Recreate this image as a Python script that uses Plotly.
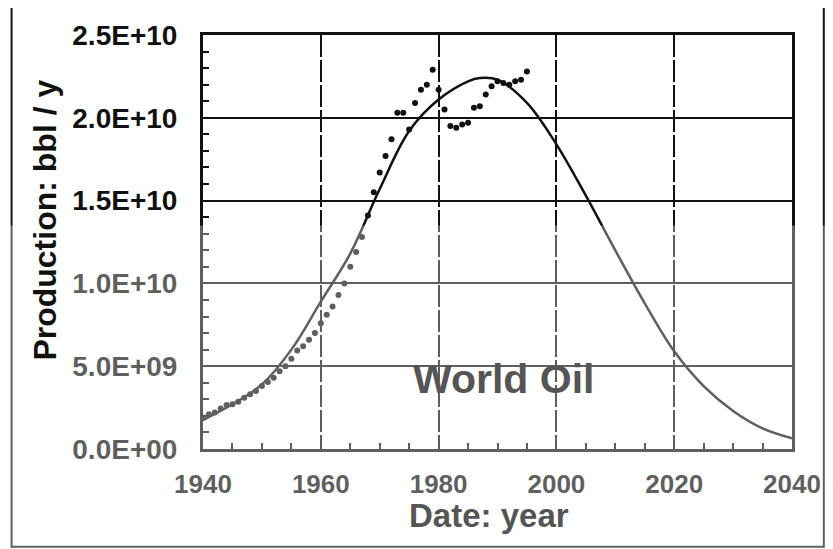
import plotly.graph_objects as go

# Hubbert-type model curve
curve_years = [1940, 1945, 1950, 1955, 1960, 1965, 1970, 1975, 1980, 1985, 1987,
               1990, 1995, 2000, 2005, 2010, 2015, 2020, 2025, 2030, 2035, 2040]
curve_values = [1.75e9, 2.7e9, 3.9e9, 6.0e9, 8.9e9, 1.18e10, 1.57e10, 1.92e10, 2.11e10,
                2.22e10, 2.24e10, 2.23e10, 2.09e10, 1.84e10, 1.53e10, 1.20e10, 8.8e9,
                5.9e9, 3.8e9, 2.3e9, 1.25e9, 6.5e8]

# Observed annual world oil production (dots)
obs_years = list(range(1940, 1996))
obs_values = [1.9e9, 2.1e9, 2.2e9, 2.45e9, 2.65e9, 2.7e9, 2.85e9, 3.1e9, 3.3e9, 3.5e9,
              3.8e9, 4.05e9, 4.3e9, 4.7e9, 5.0e9, 5.45e9, 5.95e9, 6.2e9, 6.6e9, 7.0e9,
              7.6e9, 8.1e9, 8.6e9, 9.3e9, 1.0e10, 1.1e10, 1.19e10, 1.28e10, 1.41e10, 1.55e10,
              1.67e10, 1.77e10, 1.87e10, 2.03e10, 2.03e10, 1.93e10, 2.09e10, 2.17e10, 2.2e10, 2.29e10,
              2.17e10, 2.05e10, 1.95e10, 1.94e10, 1.96e10, 1.97e10, 2.06e10, 2.07e10, 2.14e10, 2.19e10,
              2.22e10, 2.21e10, 2.2e10, 2.22e10, 2.23e10, 2.28e10]

y_tickvals = [0, 5e9, 1e10, 1.5e10, 2e10, 2.5e10]
y_ticktext = ["0.0E+00", "5.0E+09", "1.0E+10", "1.5E+10", "2.0E+10", "2.5E+10"]
x_tickvals = [1940, 1960, 1980, 2000, 2020, 2040]
x_ticktext = ["1940", "1960", "1980", "2000", "2020", "2040"]

FONT = "Liberation Sans, Arial, Helvetica, sans-serif"
INK = "#111111"

fig = go.Figure()
fig.add_trace(go.Scatter(x=curve_years, y=curve_values, mode="lines",
                         line=dict(color=INK, width=2.5, shape="spline", smoothing=1.0),
                         showlegend=False, hoverinfo="skip"))
fig.add_trace(go.Scatter(x=obs_years, y=obs_values, mode="markers",
                         marker=dict(color=INK, size=6),
                         showlegend=False))

fig.update_xaxes(range=[1940, 2040], tickvals=x_tickvals, ticktext=x_ticktext,
                 showgrid=True, gridcolor=INK, gridwidth=2, griddash="22px,3px",
                 showline=True, linecolor=INK, linewidth=3, mirror=True,
                 ticks="inside", ticklen=7, tickwidth=2, tickcolor=INK,
                 minor=dict(dtick=5, tick0=1940, ticks="inside", ticklen=6, tickwidth=2,
                            tickcolor=INK, showgrid=False),
                 ticklabelstandoff=10, zeroline=False,
                 tickfont=dict(family=FONT, size=26, color=INK, weight="bold"))
fig.update_yaxes(range=[0, 2.5e10], tickvals=y_tickvals, ticktext=y_ticktext,
                 showgrid=True, gridcolor=INK, gridwidth=2,
                 showline=True, linecolor=INK, linewidth=3, mirror=True,
                 ticks="inside", ticklen=7, tickwidth=2, tickcolor=INK,
                 minor=dict(dtick=1e9, tick0=0, ticks="inside", ticklen=6, tickwidth=2,
                            tickcolor=INK, showgrid=False),
                 ticklabelstandoff=17, zeroline=False,
                 tickfont=dict(family=FONT, size=28, color=INK, weight="bold"))

fig.add_annotation(text="Production: bbl / y", xref="paper", yref="paper",
                   x=-0.269, y=0.553, xanchor="center", yanchor="middle",
                   textangle=-90, showarrow=False,
                   font=dict(family=FONT, size=32, color=INK, weight="bold"))
fig.add_annotation(text="Date: year", xref="paper", yref="paper",
                   x=0.486, y=-0.16, xanchor="center", yanchor="middle",
                   showarrow=False,
                   font=dict(family=FONT, size=33, color="#555555", weight="bold"))
fig.add_annotation(text="World Oil", x=1991, y=4.2e9, showarrow=False,
                   xanchor="center", yanchor="middle",
                   font=dict(family=FONT, size=41, color="#555555", weight="bold"))

# scanned-page look: outer frame and lighter lower half
fig.add_shape(type="rect", xref="paper", yref="paper",
              x0=-0.325, x1=1.054, y0=-0.236, y1=1.072,
              line=dict(color=INK, width=2), layer="above")
fig.add_shape(type="rect", xref="paper", yref="paper",
              x0=-0.33, x1=1.06, y0=-0.245, y1=0.54,
              line=dict(width=0), fillcolor="rgba(255,255,255,0.33)", layer="above")

# the page body has an 8px margin, so the figure is 8px smaller and margins shifted
fig.update_layout(width=825, height=541,
                  margin=dict(l=195, r=35, t=27, b=100),
                  plot_bgcolor="white", paper_bgcolor="white",
                  font=dict(family=FONT, color=INK))

fig.write_html("out.html")
